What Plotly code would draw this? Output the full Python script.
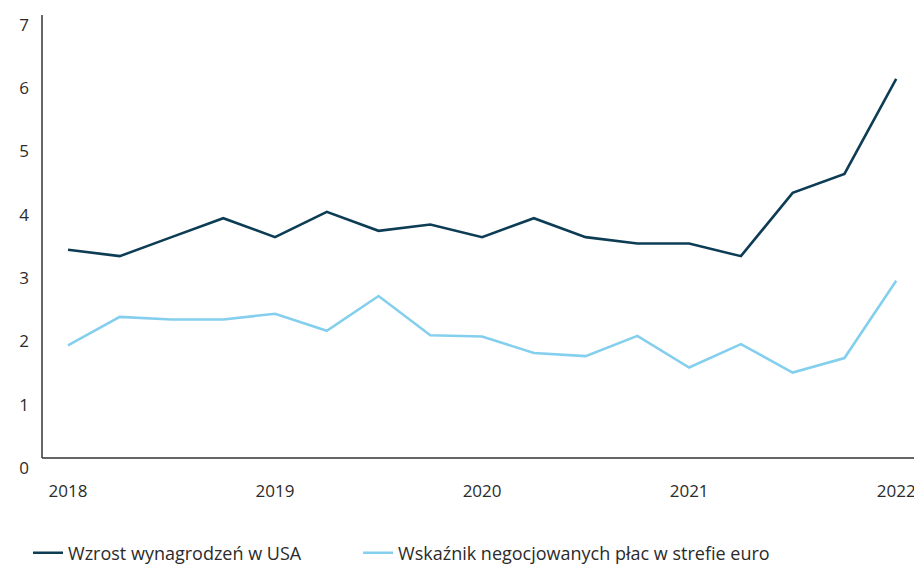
import plotly.graph_objects as go

# ── Data (quarterly, 2018 Q1 – 2022 Q1) ──────────────────────────────────────
quarters = list(range(17))
year_ticks = [0, 4, 8, 12, 16]
year_labels = ["2018", "2019", "2020", "2021", "2022"]

usa_wages = [3.4, 3.3, 3.6, 3.9, 3.6, 4.0, 3.7, 3.8, 3.6,
             3.9, 3.6, 3.5, 3.5, 3.3, 4.3, 4.6, 6.1]
euro_negotiated = [1.89, 2.34, 2.30, 2.30, 2.39, 2.12, 2.67, 2.05, 2.03,
                   1.77, 1.72, 2.04, 1.54, 1.91, 1.46, 1.69, 2.91]

_DARK = "#0d3d55"
_LIGHT = "#84cfee"
_AXIS = "#333333"
_FONT = "Open Sans, sans-serif"

fig = go.Figure()
fig.add_trace(go.Scatter(
    x=quarters, y=usa_wages, mode="lines",
    line=dict(color=_DARK, width=2.6),
    name="Wzrost wynagrodzeń w USA", legend="legend",
))
fig.add_trace(go.Scatter(
    x=quarters, y=euro_negotiated, mode="lines",
    line=dict(color=_LIGHT, width=2.6),
    name="Wskaźnik negocjowanych płac w strefie euro", legend="legend2",
))

# axis lines sit slightly above zero in the original, so draw them as shapes
base = 0.11
top = 7.11
fig.add_shape(type="line", xref="paper", yref="y", x0=0, x1=0, y0=base, y1=top,
              line=dict(color=_AXIS, width=1.5))
fig.add_shape(type="line", xref="paper", yref="y", x0=0, x1=1, y0=base, y1=base,
              line=dict(color=_AXIS, width=1.5))

_legend = dict(orientation="h", xref="container", yref="container",
               y=0.0233, xanchor="left", yanchor="middle",
               font=dict(size=18), itemwidth=30)

# page body has an 8px margin, so the figure is 8px smaller than the window
fig.update_layout(
    width=914, height=558,
    margin=dict(l=34, r=2, t=7, b=101, autoexpand=False),
    paper_bgcolor="white", plot_bgcolor="white",
    font=dict(family=_FONT, size=17, color="#2b2b2b"),
    showlegend=True,
    legend=dict(_legend, x=0.0219),
    legend2=dict(_legend, x=0.383),
    xaxis=dict(range=[-0.502, 16.46], tickvals=year_ticks, ticktext=year_labels,
               showgrid=False, zeroline=False, showline=False, ticks="",
               ticklabelstandoff=14, automargin=False),
    yaxis=dict(range=[0, top], tickvals=list(range(8)), showgrid=False,
               zeroline=False, showline=False, ticks="", ticklabelstandoff=12,
               ticklabelshift=3, automargin=False),
)

fig.write_html("out.html")
